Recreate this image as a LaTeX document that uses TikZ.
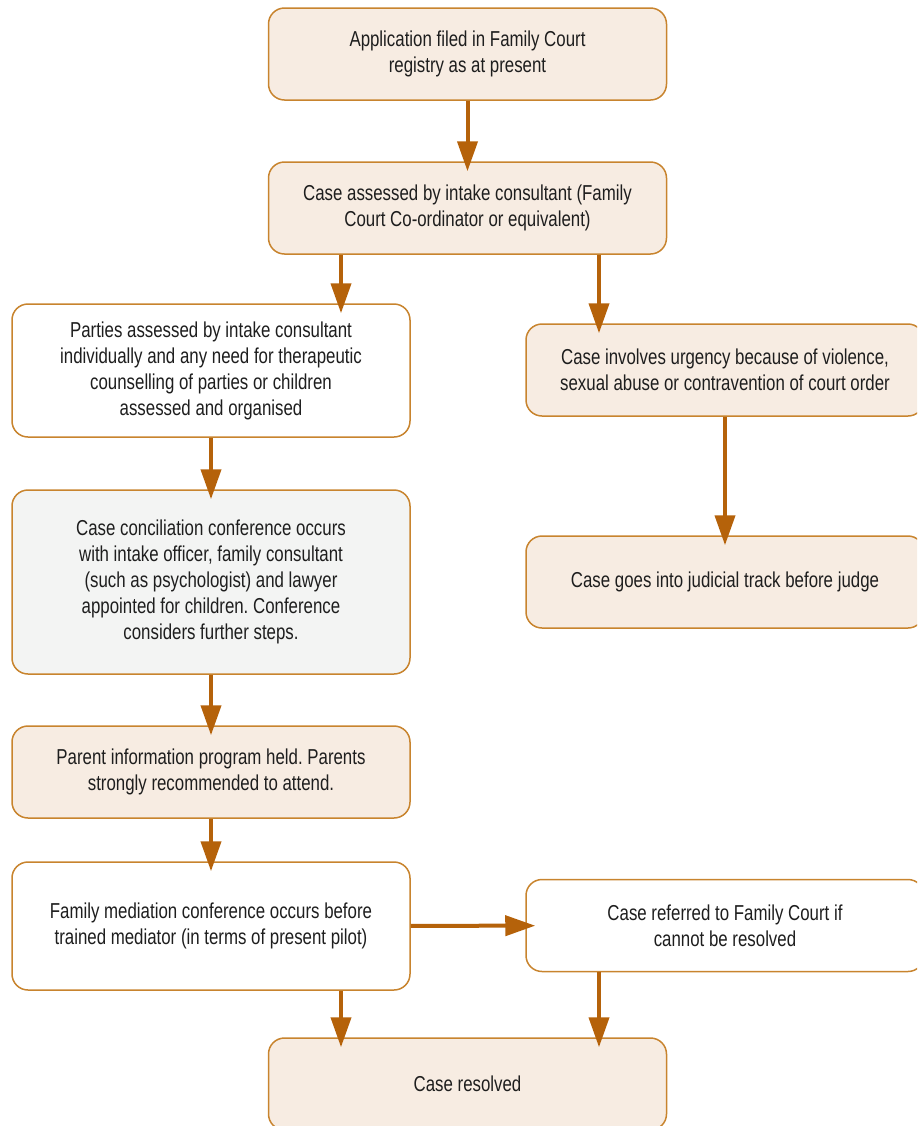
\documentclass[tikz,border=0pt]{standalone}
\usepackage{fontspec}
\setmainfont{Liberation Sans}[FakeStretch=0.78]
\usepackage{xcolor}
\usetikzlibrary{arrows.meta, positioning}
\definecolor{fbrown}{HTML}{B5620A}
\definecolor{fedge}{HTML}{C8842E}
\definecolor{fbeige}{HTML}{F7ECE2}
\definecolor{fgrey}{HTML}{F3F4F3}
\definecolor{ftext}{HTML}{1E1E1E}
\frenchspacing
\tikzset{
  stage/.style={rectangle, rounded corners=8pt, draw=fedge, line width=0.75pt, fill=white,
                text=ftext, minimum width=199pt, minimum height=46pt, align=center,
                font=\fontsize{10.8}{13}\selectfont},
  beige/.style={fill=fbeige},
  grey/.style={fill=fgrey},
  flow/.style={-{Triangle[length=15pt, width=10pt]}, draw=fbrown, line width=2pt, shorten >=-5pt}
}
\begin{document}
\begin{tikzpicture}
  \useasboundingbox (0,0) rectangle (458.5pt,-563pt);
  \clip (0,0) rectangle (458.5pt,-563pt);
  % left and middle column
  \node[stage, beige] (filed) at (233.75pt,-27pt) {Application filed in Family Court\\registry as at present};
  \node[stage, beige] (assess) at (233.75pt,-104pt) {Case assessed by intake consultant (Family\\Court Co-ordinator or equivalent)};
  \node[stage, minimum height=66.5pt] (parties) at (105.5pt,-185.25pt) {Parties assessed by intake consultant\\individually and any need for therapeutic\\counselling of parties or children\\assessed and organised};
  \node[stage, grey, minimum height=92pt] (concil) at (105.5pt,-291pt) {Case conciliation conference occurs\\with intake officer, family consultant\\(such as psychologist) and lawyer\\appointed for children. Conference\\considers further steps.};
  \node[stage, beige] (parent) at (105.5pt,-386pt) {Parent information program held. Parents\\strongly recommended to attend.};
  \node[stage, minimum height=64pt] (mediate) at (105.5pt,-463pt) {Family mediation conference occurs before\\trained mediator (in terms of present pilot)};
  \node[stage, beige] (resolved) at (233.75pt,-542pt) {Case resolved};
  % right column
  \node[stage, beige] (urgent) at (362.5pt,-185pt) {Case involves urgency because of violence,\\sexual abuse or contravention of court order};
  \node[stage, beige] (judge) at (362.5pt,-291pt) {Case goes into judicial track before judge};
  \node[stage] (referred) at (362.5pt,-462.75pt) {Case referred to Family Court if\\cannot be resolved};
  % connectors
  \draw[flow] (filed) -- (assess);
  \draw[flow] ([xshift=-63.25pt]assess.south) -- ([xshift=-63.25pt]assess.south |- parties.north);
  \draw[flow] ([xshift=65.75pt]assess.south) -- ([xshift=65.75pt]assess.south |- urgent.north);
  \draw[flow] (parties) -- (concil);
  \draw[flow] (urgent) -- (judge);
  \draw[flow] (concil) -- (parent);
  \draw[flow] (parent) -- (mediate);
  \draw[flow] (mediate) -- (referred);
  \draw[flow] ([xshift=65pt]mediate.south) -- ([xshift=65pt]mediate.south |- resolved.north);
  \draw[flow] ([xshift=-63pt]referred.south) -- ([xshift=-63pt]referred.south |- resolved.north);
\end{tikzpicture}
\end{document}
